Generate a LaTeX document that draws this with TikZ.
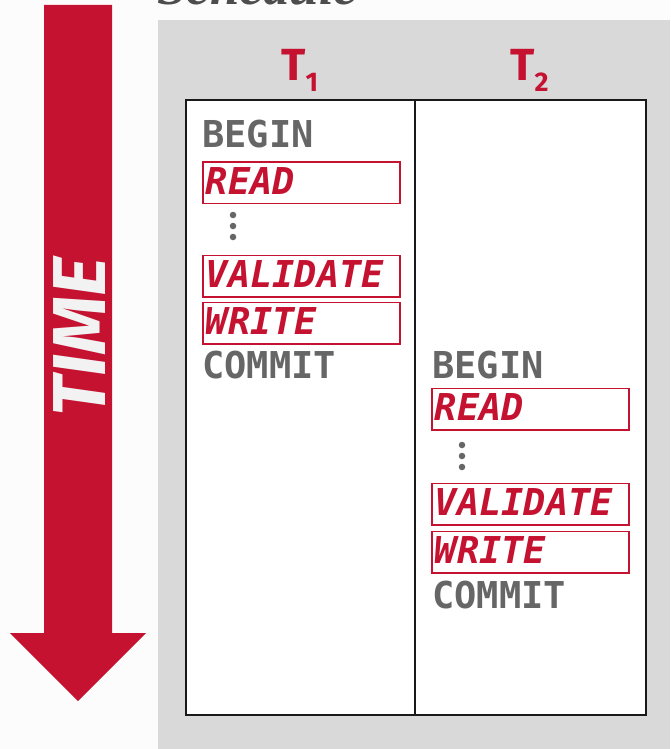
\documentclass[tikz,border=0pt]{standalone}
\usepackage{fontspec}
\newfontfamily\codefont{DejaVu Sans Mono}
\newfontfamily\labfont{Fira Sans}
\newfontfamily\titlefont{Liberation Serif}
\definecolor{cmured}{HTML}{C41230}
\definecolor{codegray}{HTML}{666666}
\definecolor{panelgray}{HTML}{D9D9D9}
\definecolor{titlegray}{HTML}{4D4D4D}
\definecolor{timewhite}{HTML}{F2F2F2}
\definecolor{bgwhite}{HTML}{FCFCFC}
\begin{document}
\begin{tikzpicture}[x=1pt,y=1pt,
  graytxt/.style={anchor=base west, inner sep=0pt, text=codegray,
    font=\codefont\bfseries\fontsize{37}{40}\selectfont},
  redbox/.style={draw=cmured, line width=1.5pt, fill=white, anchor=north west,
    minimum width=197pt, minimum height=41.5pt, inner xsep=3pt, inner ysep=0pt,
    text width=191pt, align=left, text height=25.5pt, text depth=2.5pt,
    text=cmured, font=\codefont\bfseries\itshape\fontsize{37}{40}\selectfont},
  tlabel/.style={anchor=base west, inner sep=0pt, text=cmured,
    font=\labfont\bfseries\fontsize{45}{45}\selectfont},
  dotmark/.style={circle, fill=codegray, inner sep=0pt, minimum size=6.5pt}]
\useasboundingbox (0,0) rectangle (670,-749);
\fill[bgwhite] (0,0) rectangle (670,-749);
% schedule title (cut off at top, as in the reference)
\node[anchor=base west, inner sep=0pt, text=titlegray,
  font=\titlefont\bfseries\itshape\fontsize{53}{53}\selectfont] (title) at (157,-5) {Schedule};
% panel
\fill[panelgray] (158,-20) rectangle (670,-749);
% time arrow
\fill[cmured] (44,-5) -- (112,-5) -- (112,-633) -- (146,-633) -- (78,-701)
  -- (10,-633) -- (44,-633) -- cycle;
\node[rotate=90, inner sep=0pt, text=timewhite,
  font=\labfont\bfseries\itshape\fontsize{75}{75}\selectfont] (time) at (79.5,-337) {TIME};
% table
\draw[fill=white, line width=1.8pt, draw=black!90] (186,-100) rectangle (646,-715);
\coordinate (divtop) at (415,-100);
\coordinate (divbot) at (415,-715);
\draw[line width=1.8pt, draw=black!90] (divtop) -- (divbot);
% labels
\node[tlabel] (t1) at (281,-81) {T\raisebox{-11pt}{\fontsize{27}{27}\selectfont 1}};
\node[tlabel] (t2) at (510,-81) {T\raisebox{-11pt}{\fontsize{27}{27}\selectfont 2}};
% T1
\node[graytxt] (b1) at (202,-147) {BEGIN};
\node[redbox] (r1) at (202,-161) {READ};
\node[dotmark] (d1a) at (233,-215) {};
\node[dotmark] (d1b) at (233,-226) {};
\node[dotmark] (d1c) at (233,-237) {};
\node[redbox] (v1) at (202,-254.5) {VALIDATE};
\node[redbox] (w1) at (202,-301.5) {WRITE};
\node[graytxt] (c1) at (202,-378) {COMMIT};
% T2
\node[graytxt] (b2) at (432,-378) {BEGIN};
\node[redbox] (r2) at (431,-387.5) {READ};
\node[dotmark] (d2a) at (462,-445) {};
\node[dotmark] (d2b) at (462,-456) {};
\node[dotmark] (d2c) at (462,-467) {};
\node[redbox] (v2) at (431,-482.5) {VALIDATE};
\node[redbox] (w2) at (431,-530.5) {WRITE};
\node[graytxt] (c2) at (432,-608) {COMMIT};
\end{tikzpicture}
\end{document}
